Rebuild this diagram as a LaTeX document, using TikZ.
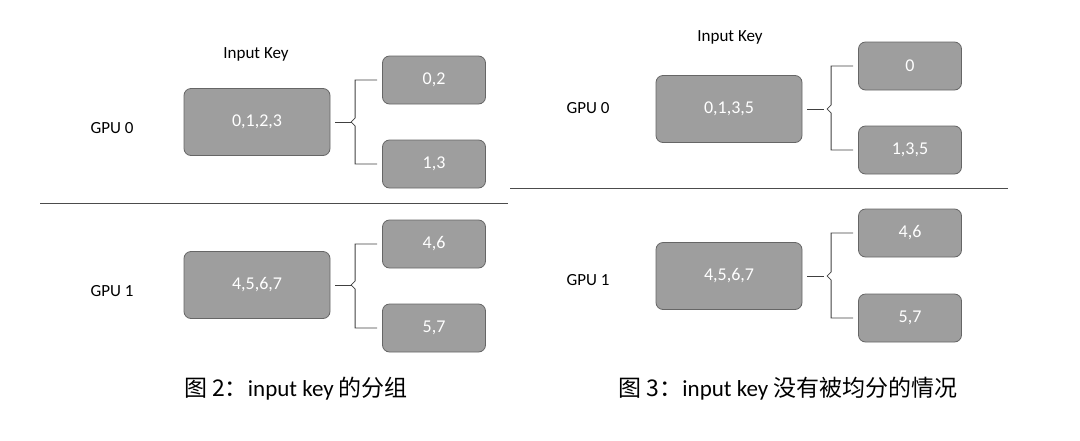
\documentclass[tikz,border=0pt]{standalone}
\usepackage{fontspec}
\setmainfont{Carlito}
\newfontfamily\cjk{Noto Sans CJK SC}
\usetikzlibrary{calc}
\begin{document}
\begin{tikzpicture}[x=1pt,y=-1pt,
  box/.style={draw=gray!80!black,fill=black!38,rounded corners=7pt,text=white,font=\fontsize{18}{20}\selectfont,line width=0.8pt},
  big/.style={box,minimum width=146pt,minimum height=67pt},
  small/.style={box,minimum width=103pt,minimum height=48pt},
  lbl/.style={font=\fontsize{17}{20}\selectfont},
  captxt/.style={font=\fontsize{23}{26}\selectfont},
  brace/.style={draw=black!75,line width=0.8pt}]
\useasboundingbox (0,0) rectangle (1080,440);
% left panel
\node[lbl] (ik1) at (256,54) {Input Key};
\node[lbl] (g0a) at (112,128) {GPU 0};
\node[big] (b0a) at (257,122) {0,1,2,3};
\node[small] (s0a) at (434,80) {0,2};
\node[small] (s0b) at (434,164) {1,3};
\node[lbl] (g1a) at (112,291) {GPU 1};
\node[big] (b1a) at (257,285) {4,5,6,7};
\node[small] (s1a) at (434,244) {4,6};
\node[small] (s1b) at (434,328) {5,7};
\draw[black!70] (40,203) -- (508,203);
\node[captxt] (c1) at (296,389) {{\cjk 图 2：}input key {\cjk 的分组}};
% right panel
\node[lbl] (ik2) at (730,37) {Input Key};
\node[lbl] (g0b) at (588,108) {GPU 0};
\node[big] (b0b) at (729,109) {0,1,3,5};
\node[small] (s2a) at (910,66) {0};
\node[small] (s2b) at (910,150) {1,3,5};
\node[lbl] (g1b) at (588,280) {GPU 1};
\node[big] (b1b) at (729,276) {4,5,6,7};
\node[small] (s3a) at (910,233) {4,6};
\node[small] (s3b) at (910,318) {5,7};
\draw[black!70] (510,188) -- (1008,188);
\node[captxt] (c2) at (788,389) {{\cjk 图 3：}input key {\cjk 没有被均分的情况}};
% braces
\foreach \b/\t/\u in {b0a/s0a/s0b,b1a/s1a/s1b,b0b/s2a/s2b,b1b/s3a/s3b}{
  \coordinate (m) at ($(\b.east)+(5,0)$);
  \coordinate (k) at ($(\t.west)+(-27,0)$);
  \draw[brace] (m) -- ++(17,0);
  \draw[brace] ($(\t.west)+(-5,0)$) -- (k |- \t.west) -- ($(k |- m)+(0,-4)$) -- ($(k |- m)+(-4,0)$) -- ($(k |- m)+(0,4)$) -- (k |- \u.west) -- ($(\u.west)+(-5,0)$);
}
\end{tikzpicture}
\end{document}
